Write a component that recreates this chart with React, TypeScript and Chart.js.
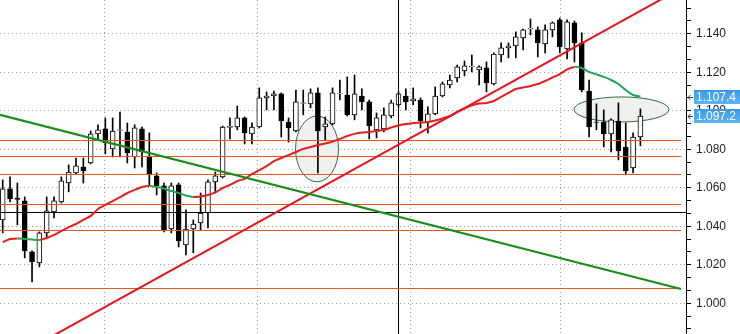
import React, { useEffect, useRef } from 'react';
import { Chart, registerables } from 'chart.js';

Chart.register(...registerables);

// Candle OHLC (one entry per bar, oldest first)
const opens = [
  1.0433, 1.0594, 1.0547, 1.0532, 1.0267, 1.0210, 1.0366, 1.0475, 1.0527, 1.0625,
  1.0677, 1.0708, 1.0729, 1.0880, 1.0906, 1.0802, 1.0898, 1.0890, 1.0760, 1.0906,
  1.0760, 1.0662, 1.0610, 1.0386, 1.0615, 1.0303, 1.0386, 1.0418, 1.0469, 1.0631,
  1.0657, 1.0914, 1.0916, 1.0963, 1.0880, 1.0916, 1.1067, 1.1077, 1.1088, 1.0942,
  1.0895, 1.1038, 1.1036, 1.1093, 1.0916, 1.0932, 1.1088, 1.1082, 1.0979, 1.1077,
  1.1046, 1.0901, 1.0906, 1.0973, 1.1031, 1.1077, 1.1051, 1.1056, 1.0942, 1.0984,
  1.1077, 1.1134, 1.1171, 1.1207, 1.1228, 1.1212, 1.1223, 1.1140, 1.1290, 1.1327,
  1.1337, 1.1379, 1.1425, 1.1420, 1.1347, 1.1420, 1.1472, 1.1321, 1.1457, 1.1353,
  1.1103, 1.0942, 1.0942, 1.0880, 1.0947, 1.0812, 1.0703, 1.0864,
];
const highs = [
  1.0641, 1.0657, 1.0625, 1.0553, 1.0272, 1.0371, 1.0553, 1.0553, 1.0657, 1.0719,
  1.0755, 1.0755, 1.0895, 1.0927, 1.0963, 1.0963, 1.0994, 1.0937, 1.0927, 1.0916,
  1.0885, 1.0677, 1.0625, 1.0625, 1.0625, 1.0485, 1.0433, 1.0573, 1.0641, 1.0682,
  1.0921, 1.0963, 1.1025, 1.0968, 1.0937, 1.1119, 1.1098, 1.1103, 1.1093, 1.0963,
  1.1108, 1.1108, 1.1114, 1.1119, 1.0968, 1.1119, 1.1160, 1.1176, 1.1186, 1.1114,
  1.1056, 1.0989, 1.1015, 1.1056, 1.1098, 1.1114, 1.1119, 1.1067, 1.1020, 1.1124,
  1.1150, 1.1186, 1.1238, 1.1259, 1.1290, 1.1233, 1.1254, 1.1301, 1.1353, 1.1353,
  1.1410, 1.1425, 1.1477, 1.1436, 1.1446, 1.1462, 1.1482, 1.1472, 1.1467, 1.1405,
  1.1160, 1.1036, 1.1005, 1.0958, 1.1041, 1.0937, 1.0885, 1.1010,
];
const lows = [
  1.0366, 1.0527, 1.0407, 1.0236, 1.0111, 1.0189, 1.0345, 1.0444, 1.0521, 1.0579,
  1.0672, 1.0625, 1.0724, 1.0849, 1.0776, 1.0760, 1.0760, 1.0729, 1.0703, 1.0708,
  1.0610, 1.0563, 1.0371, 1.0366, 1.0293, 1.0251, 1.0262, 1.0381, 1.0392, 1.0573,
  1.0651, 1.0854, 1.0901, 1.0828, 1.0828, 1.0911, 1.1005, 1.1005, 1.0864, 1.0838,
  1.0890, 1.0979, 1.1015, 1.0677, 1.0849, 1.0927, 1.1056, 1.0973, 1.0953, 1.1005,
  1.0854, 1.0859, 1.0890, 1.0963, 1.1020, 1.1005, 1.1031, 1.0911, 1.0885, 1.0979,
  1.1072, 1.1119, 1.1150, 1.1181, 1.1202, 1.1134, 1.1098, 1.1134, 1.1254, 1.1275,
  1.1275, 1.1316, 1.1394, 1.1280, 1.1301, 1.1384, 1.1301, 1.1269, 1.1254, 1.1098,
  1.0864, 1.0901, 1.0812, 1.0786, 1.0745, 1.0667, 1.0677, 1.0818,
];
const closes = [
  1.0594, 1.0542, 1.0540, 1.0272, 1.0215, 1.0366, 1.0480, 1.0532, 1.0636, 1.0682,
  1.0714, 1.0688, 1.0880, 1.0901, 1.0833, 1.0895, 1.0901, 1.0781, 1.0911, 1.0786,
  1.0667, 1.0610, 1.0381, 1.0610, 1.0324, 1.0386, 1.0412, 1.0469, 1.0631, 1.0662,
  1.0916, 1.0919, 1.0963, 1.0885, 1.0916, 1.1067, 1.1077, 1.1088, 1.0947, 1.0911,
  1.1046, 1.1041, 1.1093, 1.0895, 1.0932, 1.1093, 1.1090, 1.0979, 1.1088, 1.1046,
  1.0921, 1.0963, 1.0979, 1.1041, 1.1088, 1.1046, 1.1062, 1.0947, 1.0984, 1.1077,
  1.1140, 1.1160, 1.1228, 1.1233, 1.1231, 1.1228, 1.1145, 1.1295, 1.1327, 1.1337,
  1.1384, 1.1420, 1.1428, 1.1353, 1.1420, 1.1457, 1.1332, 1.1462, 1.1353, 1.1108,
  1.0916, 1.0940, 1.0880, 1.0953, 1.0792, 1.0688, 1.0864, 1.0972,
];
// Moving average (coloured red when rising, green when falling)
const maValues = [
  1.0318, 1.0334, 1.0337, 1.0334, 1.0331, 1.0329, 1.0339, 1.0355, 1.0376, 1.0396,
  1.0412, 1.0433, 1.0454, 1.0490, 1.0511, 1.0531, 1.0552, 1.0573, 1.0589, 1.0604,
  1.0609, 1.0604, 1.0596, 1.0583, 1.0573, 1.0560, 1.0552, 1.0555, 1.0563, 1.0576,
  1.0599, 1.0615, 1.0635, 1.0646, 1.0672, 1.0692, 1.0713, 1.0739, 1.0755, 1.0770,
  1.0786, 1.0802, 1.0812, 1.0822, 1.0830, 1.0840, 1.0854, 1.0869, 1.0880, 1.0887,
  1.0890, 1.0895, 1.0900, 1.0913, 1.0924, 1.0931, 1.0937, 1.0939, 1.0942, 1.0950,
  1.0960, 1.0973, 1.0994, 1.1012, 1.1028, 1.1038, 1.1041, 1.1051, 1.1072, 1.1093,
  1.1113, 1.1121, 1.1129, 1.1139, 1.1155, 1.1173, 1.1191, 1.1215, 1.1228, 1.1222,
  1.1202, 1.1189, 1.1176, 1.1160, 1.1139, 1.1108, 1.1082, 1.1074,
];

// Horizontal support/resistance levels
const levelPrices = [1.08457, 1.07626, 1.06691, 1.05132, 1.03782, 1.00769];
const levelStart = -0.37;
const levelEnd = 92.54;
// Crosshair
const crossPrice = 1.04717;
const crossIndex = 54.0;
// Trend lines (bar index, price)
const redTrend = [{ x: 7.0, y: 0.98343 }, { x: 90.5, y: 1.15931 }];
const greenTrend = [{ x: -0.37, y: 1.0979 }, { x: 92.54, y: 1.0074 }];
// Vertical time grid positions (bar index)
const timeGrid = [3.04, 24.64, 44.97, 66.34, 85.95];
// Ellipse annotations (centre index / price, radii in index / price units)
const ellipses = [
  { cx: 42.88, cy: 1.0802, rx: 2.93, ry: 0.0171 },
  { cx: 84.42, cy: 1.1007, rx: 6.48, ry: 0.0065 },
];
// Price tags on the axis
const priceTags = [
  { price: 1.1074, text: '1.107.4' },
  { price: 1.0972, text: '1.097.2' },
];
const yTickLabels = ['1.000', '1.020', '1.040', '1.060', '1.080', '1.100', '1.120', '1.140'];

const X_MIN = -0.37;
const X_MAX = 93.22;
const Y_MIN = 0.98405;
const Y_MAX = 1.15756;

const FONT = '"Liberation Sans", Arial, sans-serif';

const ellipsePlugin = {
  id: 'ellipses',
  beforeDatasetsDraw(chart: any) {
    const { ctx, chartArea } = chart;
    const xs = chart.scales.x;
    const ys = chart.scales.y;
    ctx.save();
    ctx.beginPath();
    ctx.rect(chartArea.left, chartArea.top, chartArea.right - chartArea.left, chartArea.bottom - chartArea.top);
    ctx.clip();
    ellipses.forEach((e) => {
      const cx = xs.getPixelForValue(e.cx);
      const cy = ys.getPixelForValue(e.cy);
      const rx = Math.abs(xs.getPixelForValue(e.cx + e.rx) - cx);
      const ry = Math.abs(ys.getPixelForValue(e.cy + e.ry) - cy);
      ctx.beginPath();
      ctx.ellipse(cx, cy, rx, ry, 0, 0, Math.PI * 2);
      ctx.fillStyle = '#f0f0f0';
      ctx.fill();
      ctx.lineWidth = 1;
      ctx.strokeStyle = '#2f6e3c';
      ctx.stroke();
    });
    ctx.restore();
  },
};

const tagPlugin = {
  id: 'priceTags',
  afterDraw(chart: any) {
    const { ctx, chartArea } = chart;
    const ys = chart.scales.y;
    ctx.save();
    priceTags.forEach((t) => {
      const py = Math.round(ys.getPixelForValue(t.price));
      const left = chartArea.right + 8;
      const grad = ctx.createLinearGradient(0, py - 7, 0, py + 7);
      grad.addColorStop(0, '#3a98e6');
      grad.addColorStop(1, '#5cb4f2');
      ctx.fillStyle = grad;
      ctx.fillRect(left, py - 7, 740 - left, 14);
      ctx.fillStyle = '#ffffff';
      ctx.font = '12px ' + FONT;
      ctx.textBaseline = 'middle';
      ctx.textAlign = 'left';
      ctx.fillText(t.text, left + 2, py + 1);
      // small arrow pointing at the axis
      ctx.strokeStyle = '#333';
      ctx.lineWidth = 1;
      ctx.beginPath();
      ctx.moveTo(chartArea.right + 2, py + 0.5);
      ctx.lineTo(chartArea.right + 7, py + 0.5);
      ctx.moveTo(chartArea.right + 4.5, py - 2);
      ctx.lineTo(chartArea.right + 2, py + 0.5);
      ctx.lineTo(chartArea.right + 4.5, py + 3);
      ctx.stroke();
    });
    ctx.restore();
  },
};

export default function App() {
  const ref = useRef<HTMLCanvasElement>(null);

  useEffect(() => {
    document.body.style.margin = '0';
    const canvas = ref.current;
    if (!canvas) return;
    const idx = closes.map((_, i) => i);
    const lineDs = (data: any[], color: string, width: number, order: number) => ({
      type: 'line',
      data,
      borderColor: color,
      borderWidth: width,
      pointRadius: 0,
      tension: 0,
      fill: false,
      order,
    });

    const isMajor = (v: number) => yTickLabels.includes(v.toFixed(3)) && Math.abs(v * 50 - Math.round(v * 50)) < 1e-6;

    const datasets: any[] = [
      ...levelPrices.map((p) => lineDs([{ x: levelStart, y: p }, { x: levelEnd, y: p }], '#e0561e', 1, 3)),
      lineDs([{ x: X_MIN, y: crossPrice }, { x: X_MAX, y: crossPrice }], '#000000', 1, 3),
      lineDs([{ x: crossIndex, y: Y_MIN - 0.01 }, { x: crossIndex, y: Y_MAX + 0.01 }], '#000000', 1, 3),
      {
        type: 'bar',
        data: idx.map((i) => ({ x: i, y: [lows[i], highs[i]] })),
        backgroundColor: '#000000',
        barThickness: 1,
        grouped: false,
        order: 6,
      },
      {
        type: 'bar',
        data: idx.map((i) => ({ x: i, y: [opens[i], closes[i]] })),
        backgroundColor: idx.map((i) => (closes[i] >= opens[i] ? '#ffffff' : '#000000')),
        borderColor: '#000000',
        borderWidth: 1,
        borderSkipped: false,
        barThickness: 5,
        grouped: false,
        order: 5,
      },
      {
        type: 'line',
        data: idx.map((i) => ({ x: i, y: maValues[i] })),
        borderWidth: 2,
        pointRadius: 0,
        tension: 0.2,
        fill: false,
        order: 2,
        borderColor: '#e61e1e',
        segment: {
          borderColor: (c: any) => (c.p1.parsed.y < c.p0.parsed.y ? '#22a35a' : '#e61e1e'),
        },
      },
      lineDs(greenTrend, '#1a8c1a', 2, 1),
      lineDs(redTrend, '#e8141c', 2, 1),
    ];

    const chart = new Chart(canvas, {
      type: 'bar',
      data: { datasets },
      options: {
        responsive: false,
        animation: false,
        devicePixelRatio: 1,
        events: [],
        layout: { padding: 0 },
        plugins: { legend: { display: false }, tooltip: { enabled: false }, title: { display: false } },
        scales: {
          x: {
            type: 'linear',
            min: X_MIN,
            max: X_MAX,
            offset: false,
            ticks: { display: false },
            grid: { color: '#a0a0a0', drawTicks: false, lineWidth: 1 },
            border: { display: false, dash: [1, 3] },
            afterBuildTicks: (s: any) => {
              s.ticks = timeGrid.map((v) => ({ value: v }));
            },
            afterFit: (s: any) => {
              s.height = 0;
              s.paddingLeft = 0;
              s.paddingRight = 0;
            },
          },
          y: {
            type: 'linear',
            position: 'right',
            min: Y_MIN,
            max: Y_MAX,
            afterBuildTicks: (s: any) => {
              const t: any[] = [];
              for (let k = -2; k <= 23; k++) t.push({ value: 1 + (k * 0.02) / 3 });
              s.ticks = t;
            },
            afterFit: (s: any) => {
              s.width = 54;
              s.paddingTop = 0;
              s.paddingBottom = 0;
            },
            ticks: {
              autoSkip: false,
              padding: 5,
              color: '#222222',
              font: { family: FONT, size: 12 },
              callback: (v: any) => (isMajor(Number(v)) ? Number(v).toFixed(3) : ''),
            },
            grid: {
              color: (c: any) => (c.tick && isMajor(c.tick.value) ? '#a0a0a0' : 'rgba(0,0,0,0)'),
              tickColor: '#000000',
              tickLength: 5,
              tickWidth: 1,
              tickBorderDash: [],
              lineWidth: 1,
            },
            border: { display: true, color: '#000000', width: 1, dash: [1, 3] },
          },
        },
      } as any,
      plugins: [ellipsePlugin, tagPlugin],
    } as any);

    return () => chart.destroy();
  }, []);

  return (
    <div style={{ width: 740, height: 334, background: '#ffffff' }}>
      <canvas ref={ref} width={740} height={334} style={{ display: 'block' }} />
    </div>
  );
}
